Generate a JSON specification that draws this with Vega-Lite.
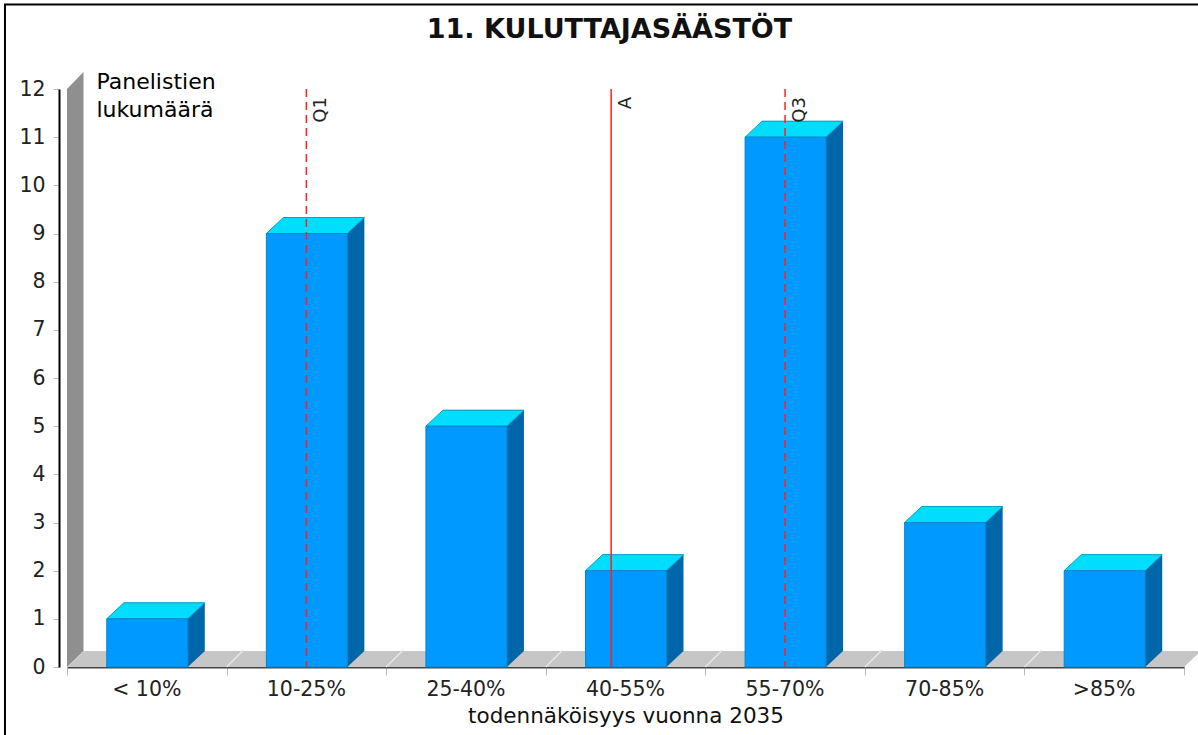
{
"$schema":"https://vega.github.io/schema/vega-lite/v6.json",
"width":1117,"height":578,"autosize":"none",
"padding":{"left":67,"top":89,"right":14,"bottom":68},
"background":"white",
"config":{"view":{"stroke":null},"font":"DejaVu Sans"},
"title":{"text":"11. KULUTTAJASÄÄSTÖT","font":"DejaVu Sans","fontSize":27,"fontWeight":"bold","color":"#111111","anchor":"middle","dx":-16,"offset":-43},
"datasets":{
"bars":[{"luokka":"< 10%","panelistit":1},{"luokka":"10-25%","panelistit":9},{"luokka":"25-40%","panelistit":5},{"luokka":"40-55%","panelistit":2},{"luokka":"55-70%","panelistit":11},{"luokka":"70-85%","panelistit":3},{"luokka":">85%","panelistit":2}],
"markers":[{"nimi":"Q1","paikka":1.5,"tyyli":"d","ylä":12},{"nimi":"A","paikka":3.41,"tyyli":"s","ylä":12},{"nimi":"Q3","paikka":4.5,"tyyli":"d","ylä":12}]
},
"layer":[
{"data":{"name":"bars"},
 "encoding":{
  "x":{"field":"luokka","type":"nominal","sort":null,"scale":{"type":"band","paddingInner":0,"paddingOuter":0},
   "axis":{"orient":"bottom","title":"todennäköisyys vuonna 2035","titleFont":"DejaVu Sans","titleFontSize":21.5,"titleFontWeight":"normal","titleColor":"#111111","titlePadding":6,"labelAngle":0,"labelFontSize":20.5,"labelColor":"#222222","labelPadding":12,"ticks":false,"domain":false,"grid":false}}
 },
 "layer":[
  {"mark":{"type":"point","filled":true,"opacity":1,"size":4,"fill":"#c6c6c6","shape":"M-79.8,0 L-62.8,-16 L96.8,-16 L79.8,0 Z"},
   "encoding":{"y":{"datum":0,"type":"quantitative","scale":{"domain":[0,12]},
    "axis":{"title":["Panelistien","lukumäärä"],"titleFont":"DejaVu Sans","titleFontSize":22,"titleFontWeight":"normal","titleColor":"#000000","titleAngle":0,"titleAlign":"left","titleBaseline":"top","titleX":37,"titleY":-18,"titleLineHeight":28,"values":[0,1,2,3,4,5,6,7,8,9,10,11,12],"format":"d","offset":8,"tickSize":6,"tickColor":"#bbbbbb","domainColor":"#000000","domainWidth":2,"labelFontSize":20.5,"labelColor":"#222222","labelPadding":8,"grid":false}}}},
  {"mark":{"type":"point","filled":false,"opacity":1,"size":4,"stroke":"#e6e6e6","strokeWidth":1.5,"shape":"M-79.8,0 L-62.8,-17"},
   "encoding":{"y":{"datum":0,"type":"quantitative"}}},
  {"transform":[{"filter":"datum.luokka === '< 10%'"}],
   "mark":{"type":"point","filled":true,"opacity":1,"size":4,"fill":"#8f8f8f","shape":"M-79.8,0 L-63.3,-16 L-63.3,-595 L-79.8,-578 Z"},
   "encoding":{"y":{"datum":0,"type":"quantitative"}}},
  {"transform":[{"filter":"datum.luokka === '< 10%'"}],
   "mark":{"type":"point","filled":false,"opacity":1,"size":4,"stroke":"#000000","strokeWidth":2,"shape":"M-141.8,75 L-141.8,-662.5 L1060,-662.5"},
   "encoding":{"y":{"datum":0,"type":"quantitative"}}},
  {"mark":{"type":"bar","size":81,"color":"#0066aa","xOffset":17.5,"yOffset":-16,"y2Offset":-16},
   "encoding":{"y":{"field":"panelistit","type":"quantitative"},"y2":{"datum":0}}},
  {"mark":{"type":"point","filled":true,"opacity":1,"size":4,"fill":"#0066aa","shape":"M41,0 L58,-16 L41,-16 Z"},
   "encoding":{"y":{"datum":0,"type":"quantitative"}}},
  {"mark":{"type":"point","filled":true,"opacity":1,"size":4,"fill":"#00ddff","stroke":"#00a0c8","strokeWidth":1,"shape":"M-40,0 L-23,-16 L58,-16 L41,0 Z"},
   "encoding":{"y":{"field":"panelistit","type":"quantitative"}}},
  {"mark":{"type":"bar","size":81,"color":"#0099ff","stroke":"#0088c8","strokeWidth":1,"xOffset":0.5},
   "encoding":{"y":{"field":"panelistit","type":"quantitative"},"y2":{"datum":0}}}
 ]},
{"data":{"name":"markers"},
 "encoding":{"x":{"field":"paikka","type":"quantitative","scale":{"domain":[0,7],"nice":false,"zero":false},
   "axis":{"orient":"bottom","title":null,"values":[0,1,2,3,4,5,6,7],"labels":false,"tickSize":8,"tickColor":"#bbbbbb","domainColor":"#444444","domainWidth":2,"grid":false}}},
 "layer":[
  {"mark":{"type":"rule","color":"#ff2020","strokeWidth":1.5},
   "encoding":{"y":{"field":"ylä","type":"quantitative"},"y2":{"datum":0},
    "strokeDash":{"field":"tyyli","type":"nominal","scale":{"domain":["d","s"],"range":[[8,5],[1,0]]},"legend":null}}},
  {"mark":{"type":"text","angle":270,"align":"right","baseline":"middle","dx":-8,"dy":15,"fontSize":18,"color":"#222222"},
   "encoding":{"y":{"field":"ylä","type":"quantitative"},"text":{"field":"nimi"}}}
 ]}
],
"resolve":{"scale":{"x":"independent"},"axis":{"x":"independent"}}
}
